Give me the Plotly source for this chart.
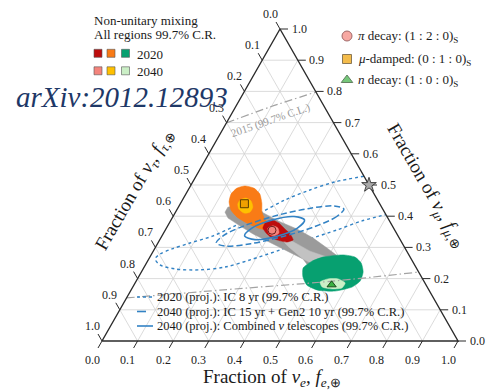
import math
import plotly.graph_objects as go

# ---------------------------------------------------------------------------
# Flavour triangle data. Every point is (f_e, f_mu); f_tau = 1 - f_e - f_mu.
# ---------------------------------------------------------------------------
TICK_VALUES = [0.0, 0.1, 0.2, 0.3, 0.4, 0.5, 0.6, 0.7, 0.8, 0.9, 1.0]
TICK_LABELS = ["0.0", "0.1", "0.2", "0.3", "0.4", "0.5", "0.6", "0.7", "0.8", "0.9", "1.0"]

# Flavour ratios at Earth for the benchmark sources (standard mixing)
PI_DECAY = (0.300, 0.355)
MU_DAMPED = (0.180, 0.440)
N_DECAY = (0.555, 0.180)
STAR_POINT = (0.500, 0.500)

# Non-unitary mixing, all sources combined (outer band and inner band)
BAND_E = [0.139, 0.181, 0.243, 0.302, 0.368, 0.428, 0.483, 0.536, 0.549, 0.467, 0.433, 0.376, 0.315, 0.253, 0.203, 0.157, 0.139]
BAND_MU = [0.429, 0.442, 0.413, 0.385, 0.359, 0.330, 0.298, 0.266, 0.212, 0.234, 0.263, 0.288, 0.314, 0.343, 0.369, 0.394, 0.413]
CORE_E = [0.348, 0.366, 0.440, 0.507, 0.529, 0.484, 0.433, 0.370]
CORE_MU = [0.321, 0.324, 0.288, 0.266, 0.240, 0.240, 0.263, 0.304]

# n decay: 2020 and 2040
N2020_E = [0.448, 0.462, 0.486, 0.539, 0.576, 0.603, 0.623, 0.629, 0.616, 0.574, 0.525, 0.486, 0.462]
N2020_MU = [0.234, 0.256, 0.269, 0.276, 0.269, 0.250, 0.221, 0.192, 0.173, 0.160, 0.163, 0.179, 0.205]
N2040_E = [0.518, 0.535, 0.564, 0.590, 0.589, 0.563, 0.532]
N2040_MU = [0.189, 0.199, 0.199, 0.186, 0.170, 0.167, 0.173]

# mu-damped: 2020 and 2040
MU2020_E = [0.153, 0.182, 0.208, 0.228, 0.243, 0.262, 0.279, 0.286, 0.257, 0.218, 0.181, 0.152, 0.134, 0.127, 0.134]
MU2020_MU = [0.497, 0.490, 0.471, 0.442, 0.413, 0.391, 0.375, 0.356, 0.362, 0.378, 0.397, 0.420, 0.446, 0.471, 0.490]
MU2040_E = [0.162, 0.175, 0.194, 0.209, 0.209, 0.194, 0.173, 0.162]
MU2040_MU = [0.452, 0.458, 0.449, 0.429, 0.413, 0.410, 0.423, 0.439]

# pi decay: 2020 and 2040
PI2020_E = [0.269, 0.284, 0.308, 0.330, 0.357, 0.375, 0.361, 0.340, 0.312, 0.288, 0.271]
PI2020_MU = [0.378, 0.388, 0.378, 0.362, 0.343, 0.324, 0.317, 0.321, 0.330, 0.346, 0.362]
PI2040_E = [0.285, 0.296, 0.313, 0.324, 0.315, 0.298]
PI2040_MU = [0.362, 0.369, 0.362, 0.346, 0.337, 0.343]

# Projected measurement contours (99.7% C.R.)
IC8_E = [0.472, 0.400, 0.342, 0.288, 0.239, 0.189, 0.144, 0.090, 0.049, 0.024, 0.018,
         0.041, 0.090, 0.162, 0.227, 0.286, 0.354, 0.414, 0.482, 0.538, 0.595]
IC8_MU = [0.528, 0.510, 0.484, 0.452, 0.410, 0.369, 0.337, 0.314, 0.295, 0.279, 0.263,
          0.244, 0.231, 0.228, 0.237, 0.260, 0.292, 0.324, 0.356, 0.385, 0.405]
GEN2_E = [0.468, 0.460, 0.413, 0.341, 0.262, 0.197, 0.164, 0.172, 0.218, 0.291, 0.370, 0.435]
GEN2_MU = [0.423, 0.399, 0.366, 0.335, 0.312, 0.304, 0.314, 0.338, 0.371, 0.403, 0.425, 0.433]
COMB_E = [0.375, 0.368, 0.323, 0.267, 0.232, 0.240, 0.284, 0.340]
COMB_MU = [0.388, 0.362, 0.336, 0.325, 0.337, 0.362, 0.388, 0.399]

# IceCube 2015 (99.7% C.L.) boundary segments inside the triangle
IC2015_UP_E = [0.000, 0.097, 0.202]
IC2015_UP_MU = [0.699, 0.750, 0.798]
IC2015_LOW_E = [0.000, 0.250, 0.553, 0.779]
IC2015_LOW_MU = [0.138, 0.163, 0.192, 0.221]

# ---------------------------------------------------------------------------
# Layout geometry
# ---------------------------------------------------------------------------
W, HPX = 496, 392
SQ3 = math.sqrt(3) / 2
ORIGIN = (102, 341)          # pixel position of the f_tau = 1 corner
PXX = 356.0                   # pixels per unit of x
PXY = 312.0 / SQ3             # pixels per unit of y
X_RANGE = [-ORIGIN[0] / PXX, (W - ORIGIN[0]) / PXX]
Y_RANGE = [-(HPX - ORIGIN[1]) / PXY, ORIGIN[1] / PXY]

FONT = "Liberation Serif"
BLUE = "#3282c4"
INK = "#2b2b2b"


def to_xy(fe, fmu):
    xs = [e + m / 2 for e, m in zip(fe, fmu)]
    ys = [m * SQ3 for m in fmu]
    return xs, ys


def closed(seq):
    return list(seq) + [seq[0]]


fig = go.Figure()

# Grid lines of constant f_e, f_mu and f_tau
gx, gy = [], []
for v in TICK_VALUES[1:-1]:
    for (e0, m0), (e1, m1) in [((v, 0), (v, 1 - v)), ((0, v), (1 - v, v)), ((0, 1 - v), (1 - v, 0))]:
        x, y = to_xy([e0, e1], [m0, m1])
        gx += x + [None]
        gy += y + [None]
fig.add_trace(go.Scatter(x=gx, y=gy, mode="lines", line=dict(color="#d2d2d2", width=0.8),
                         hoverinfo="skip", showlegend=False))


def contour(fe, fmu, dash, width, close=True, color=BLUE):
    es, ms = (closed(fe), closed(fmu)) if close else (fe, fmu)
    x, y = to_xy(es, ms)
    fig.add_trace(go.Scatter(x=x, y=y, mode="lines",
                             line=dict(color=color, width=width, dash=dash, shape="spline", smoothing=0.9),
                             hoverinfo="skip", showlegend=False))


def region(fe, fmu, color, smooth=0.6):
    x, y = to_xy(closed(fe), closed(fmu))
    shape = "spline" if smooth > 0 else "linear"
    line = dict(color=color, width=0.5, shape=shape)
    if smooth > 0:
        line["smoothing"] = smooth
    fig.add_trace(go.Scatter(x=x, y=y, mode="lines", fill="toself", fillcolor=color, line=line,
                             hoverinfo="skip", showlegend=False))


# IceCube 8 yr projection sits underneath the allowed regions
contour(IC8_E, IC8_MU, "dot", 1.4, close=False)

region(BAND_E, BAND_MU, "#9b9b9b", smooth=0)
region(CORE_E, CORE_MU, "#c2c2c2", smooth=0)
region(N2020_E, N2020_MU, "#07a070")
region(N2040_E, N2040_MU, "#cbefc6")
region(MU2020_E, MU2020_MU, "#f97b16", smooth=0.5)
region(MU2040_E, MU2040_MU, "#ffc000")
region(PI2020_E, PI2020_MU, "#bd0d0d", smooth=0.4)
region(PI2040_E, PI2040_MU, "#f4847c")

# 2015 measurement boundary
for fe, fmu in [(IC2015_UP_E, IC2015_UP_MU), (IC2015_LOW_E, IC2015_LOW_MU)]:
    contour(fe, fmu, "8px,3px,1.5px,3px", 1.2, close=False, color="#a3a3a3")

contour(GEN2_E, GEN2_MU, "6px,3px", 1.5)
contour(COMB_E, COMB_MU, "solid", 1.6)

# Triangle frame
fx, fy = to_xy([0, 1, 0, 0], [0, 0, 1, 0])
fig.add_trace(go.Scatter(x=fx, y=fy, mode="lines", line=dict(color=INK, width=1.4),
                         hoverinfo="skip", showlegend=False))

# Tick marks and tick labels on the three sides
tx, ty = [], []
annotations = []
tick_font = dict(family=FONT, size=12, color="#222222")
for v, lab in zip(TICK_VALUES, TICK_LABELS):
    # f_e along the bottom
    (bx,), (by,) = to_xy([v], [0])
    tx += [bx, bx - 4 / PXX, None]
    ty += [by, by - 7 / PXY, None]
    annotations.append(dict(x=bx, y=by, xref="x", yref="y", text=lab, showarrow=False,
                            xshift=-10, yshift=-19, font=tick_font))
    # f_mu along the right side
    (rx,), (ry,) = to_xy([1 - v], [v])
    tx += [rx, rx + 8 / PXX, None]
    ty += [ry, ry, None]
    annotations.append(dict(x=rx, y=ry, xref="x", yref="y", text=lab, showarrow=False,
                            xshift=19, yshift=0, font=tick_font))
    # f_tau along the left side
    (lx,), (ly,) = to_xy([0], [1 - v])
    tx += [lx, lx - 4 / PXX, None]
    ty += [ly, ly + 7 / PXY, None]
    annotations.append(dict(x=lx, y=ly, xref="x", yref="y", text=lab, showarrow=False,
                            xshift=-10, yshift=15, font=tick_font))
fig.add_trace(go.Scatter(x=tx, y=ty, mode="lines", line=dict(color=INK, width=1.0),
                         hoverinfo="skip", showlegend=False))

# Source markers
def marker(pt, symbol, size, fill, edge):
    x, y = to_xy([pt[0]], [pt[1]])
    fig.add_trace(go.Scatter(x=x, y=y, mode="markers",
                             marker=dict(symbol=symbol, size=size, color=fill, line=dict(color=edge, width=0.9)),
                             hoverinfo="skip", showlegend=False))


marker(PI_DECAY, "circle", 8, "#f4847c", "#5a1010")
marker(MU_DAMPED, "square", 8, "#f0a000", "#4a3000")
marker(N_DECAY, "triangle-up", 8, "#3cb043", "#123d12")
marker(STAR_POINT, "star", 11, "#a8a8a8", "#333333")

# ---------------------------------------------------------------------------
# Decorations in pixel space (overlay axes x2/y2)
# ---------------------------------------------------------------------------
fig.add_trace(go.Scatter(x=[347, 347, 347], y=[36, 59, 80], xaxis="x2", yaxis="y2", mode="markers",
                         marker=dict(symbol=["circle", "square", "triangle-up"], size=[10, 9, 10],
                                     color=["#f4847c", "#f0a000", "#3cb043"],
                                     line=dict(color=["#6a1a1a", "#4a3000", "#123d12"], width=0.9)),
                         hoverinfo="skip", showlegend=False))

shapes = []
legend_squares = [
    (98, 53.3, "#bd0d0d"), (111, 53.3, "#f97b16"), (125.5, 53.3, "#07a070"),
    (98, 70.8, "#f4847c"), (111, 70.8, "#ffc000"), (125.5, 70.8, "#cbefc6"),
]
for cx, cy, col in legend_squares:
    shapes.append(dict(type="rect", xref="x2", yref="y2", x0=cx - 4, x1=cx + 4, y0=cy - 4, y1=cy + 4,
                       fillcolor=col, line=dict(color="#555555", width=0.6)))

for yy, dash in [(297, "dot"), (311.5, "dash"), (326, "solid")]:
    shapes.append(dict(type="line", xref="x2", yref="y2", x0=137, x1=153, y0=yy, y1=yy,
                       line=dict(color=BLUE, width=1.6, dash=dash)))


def label(x, y, text, size=12.5, color="#1a1a1a", anchor="left", angle=0):
    annotations.append(dict(x=x, y=y, xref="x2", yref="y2", text=text, showarrow=False,
                            xanchor=anchor, yanchor="middle", textangle=angle,
                            font=dict(family=FONT, size=size, color=color)))


label(92, 20, "Non-unitary mixing", 13)
label(92, 34, "All regions 99.7% C.R.", 13)
label(135, 54, "2020", 13)
label(135, 71, "2040", 13)
label(122, 97, "<i>arXiv:2012.12893</i>", 29, color="#1e3867", anchor="center")

label(356, 36, "<i>π</i> decay: (1 : 2 : 0)<sub>S</sub>", 13)
label(356, 59, "<i>μ</i>-damped: (0 : 1 : 0)<sub>S</sub>", 13)
label(356, 80, "<i>n</i> decay: (1 : 0 : 0)<sub>S</sub>", 13)

label(155, 297, "2020 (proj.): IC 8 yr (99.7% C.R.)", 12.5)
label(155, 311.5, "2040 (proj.): IC 15 yr + Gen2 10 yr (99.7% C.R.)", 12.5)
label(155, 326, "2040 (proj.): Combined <i>ν</i> telescopes (99.7% C.R.)", 12.5)

label(270, 120, "2015 (99.7% C.L.)", 11, color="#9a9a9a", anchor="center", angle=-19)

label(272, 378, "Fraction of <i>ν<sub>e</sub></i>, <i>f</i><sub><i>e</i>,⊕</sub>", 19, anchor="center")
label(135, 190, "Fraction of <i>ν<sub>τ</sub></i>, <i>f</i><sub><i>τ</i>,⊕</sub>", 19, anchor="center", angle=-60)
label(426, 186, "Fraction of <i>ν<sub>μ</sub></i>, <i>f</i><sub><i>μ</i>,⊕</sub>", 19, anchor="center", angle=60)

fig.update_layout(
    width=W, height=HPX, autosize=False,
    margin=dict(l=0, r=0, t=0, b=0, pad=0),
    paper_bgcolor="white", plot_bgcolor="white",
    xaxis=dict(range=X_RANGE, visible=False, fixedrange=True),
    yaxis=dict(range=Y_RANGE, visible=False, fixedrange=True),
    xaxis2=dict(range=[0, W], overlaying="x", visible=False, fixedrange=True),
    yaxis2=dict(range=[HPX, 0], overlaying="y", visible=False, fixedrange=True),
    shapes=shapes,
    annotations=annotations,
    showlegend=False,
)

fig.write_html("out.html")
